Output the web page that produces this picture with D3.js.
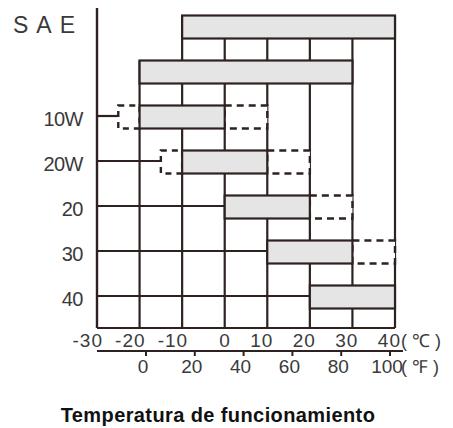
<!DOCTYPE html>
<html>
<head>
<meta charset="utf-8">
<script src="https://cdn.jsdelivr.net/npm/d3@7"></script>
<style>
  body { margin: 0; background: #fff; }
  text { font-family: "Liberation Sans", Arial, sans-serif; }
</style>
</head>
<body>
<div id="chart"></div>
<script>
// rows of the chart, top to bottom
let rows = ["all1", "all2", "10W", "20W", "20", "30", "40"];
let rowLabels = ["", "", "10W", "20W", "20", "30", "40"];
// solid range (deg C) for each grade
let solidFrom = [-10, -20, -20, -10, 0, 10, 20];
let solidTo = [40, 30, 0, 10, 20, 30, 40];
// dashed extensions (null = none)
let dashLeftFrom = [null, null, -25, -15, null, null, null];
let dashRightTo = [null, null, 10, 20, 30, 40, null];

let celsiusTicks = [-30, -20, -10, 0, 10, 20, 30, 40];
let fahrenheitTicks = [0, 20, 40, 60, 80, 100];

let width = 453, height = 428;
let ink = "#2d2220";
let labelInk = "#3a3a3a";

let svg = d3.select("#chart")
    .append("svg")
    .attr("width", width)
    .attr("height", height);

let x = d3.scaleLinear()
    .domain([-30, 40])
    .range([97, 395]);

let fx = d3.scaleLinear()
    .domain([0, 100])
    .range([146, 390]);

let y = d3.scalePoint()
    .domain(rows)
    .range([27, 297]);

let barH = 23;
let gridBottom = 328;

let bars = rows.map((r, i) => ({
    row: r,
    label: rowLabels[i],
    from: solidFrom[i],
    to: solidTo[i],
    dl: dashLeftFrom[i],
    dr: dashRightTo[i]
}));

// vertical grid lines start at the first solid bar that covers them
let grid = svg.append("g");
celsiusTicks.slice(1).forEach(t => {
    let cover = bars.filter(b => b.from <= t && b.to >= t);
    let top = d3.min(cover, b => y(b.row) - barH / 2);
    grid.append("line")
        .attr("x1", x(t)).attr("x2", x(t))
        .attr("y1", top).attr("y2", gridBottom)
        .attr("stroke", ink).attr("stroke-width", 2.2);
});

grid.append("line")
    .attr("x1", x(-30)).attr("x2", x(40))
    .attr("y1", gridBottom).attr("y2", gridBottom)
    .attr("stroke", ink).attr("stroke-width", 2.2);

// connector lines from the axis to each labelled bar
svg.append("g").selectAll("line")
    .data(bars.filter(b => b.label !== ""))
    .enter()
    .append("line")
    .attr("x1", x(-30))
    .attr("x2", d => x(d.dl !== null ? d.dl : d.from))
    .attr("y1", d => y(d.row) - 1)
    .attr("y2", d => y(d.row) - 1)
    .attr("stroke", ink)
    .attr("stroke-width", 2.2);

// dashed extensions
let dashed = svg.append("g");
bars.forEach(b => {
    if (b.dl !== null) {
        dashed.append("rect")
            .attr("x", x(b.dl)).attr("y", y(b.row) - barH / 2)
            .attr("width", x(b.from) - x(b.dl)).attr("height", barH)
            .attr("fill", "#fff").attr("stroke", ink)
            .attr("stroke-width", 2.4).attr("stroke-dasharray", "6,5");
    }
    if (b.dr !== null) {
        dashed.append("rect")
            .attr("x", x(b.to)).attr("y", y(b.row) - barH / 2)
            .attr("width", x(b.dr) - x(b.to)).attr("height", barH)
            .attr("fill", "#fff").attr("stroke", ink)
            .attr("stroke-width", 2.4).attr("stroke-dasharray", "7,5");
    }
});

// solid bars
svg.append("g").selectAll("rect")
    .data(bars)
    .enter()
    .append("rect")
    .attr("x", d => x(d.from))
    .attr("y", d => y(d.row) - barH / 2)
    .attr("width", d => x(d.to) - x(d.from))
    .attr("height", barH)
    .attr("fill", "#e5e5e5")
    .attr("stroke", ink)
    .attr("stroke-width", 2.2);

// y axis line
svg.append("line")
    .attr("x1", x(-30)).attr("x2", x(-30))
    .attr("y1", 8).attr("y2", gridBottom)
    .attr("stroke", ink).attr("stroke-width", 2.4);

svg.append("g").selectAll("text")
    .data(bars.filter(b => b.label !== ""))
    .enter()
    .append("text")
    .attr("x", 83)
    .attr("y", d => y(d.row) + 9)
    .attr("text-anchor", "end")
    .attr("font-size", 20)
    .attr("letter-spacing", -0.5)
    .attr("fill", labelInk)
    .text(d => d.label);

svg.append("text")
    .attr("x", 13).attr("y", 33)
    .attr("font-size", 23)
    .attr("letter-spacing", 8)
    .attr("fill", labelInk)
    .text("SAE");

// celsius labels
let cY = 347;
svg.append("g").selectAll("text")
    .data(celsiusTicks)
    .enter()
    .append("text")
    .attr("x", d => x(d) + 6)
    .attr("y", cY)
    .attr("text-anchor", "end")
    .attr("font-size", 19)
    .attr("letter-spacing", 1)
    .attr("fill", labelInk)
    .text(d => d);

svg.append("text")
    .attr("x", 401).attr("y", cY)
    .attr("font-size", 18)
    .attr("fill", labelInk)
    .text("( ℃ )");

// fahrenheit axis
let fAxis = svg.append("g");
fAxis.append("line")
    .attr("x1", x(-30)).attr("x2", 403)
    .attr("y1", 351).attr("y2", 351)
    .attr("stroke", ink).attr("stroke-width", 2);

fAxis.selectAll(".tick")
    .data(fahrenheitTicks)
    .enter()
    .append("line")
    .attr("x1", d => fx(d)).attr("x2", d => fx(d))
    .attr("y1", 351).attr("y2", 356)
    .attr("stroke", ink).attr("stroke-width", 2);

fAxis.selectAll("text")
    .data(fahrenheitTicks)
    .enter()
    .append("text")
    .attr("x", d => fx(d) - 3)
    .attr("y", 373)
    .attr("text-anchor", "middle")
    .attr("font-size", 19)
    .attr("fill", labelInk)
    .text(d => d);

svg.append("text")
    .attr("x", 401).attr("y", 373)
    .attr("font-size", 18)
    .attr("fill", labelInk)
    .text("( ℉ )");

svg.append("text")
    .attr("x", 218).attr("y", 422)
    .attr("text-anchor", "middle")
    .attr("font-size", 20)
    .attr("font-weight", "bold")
    .attr("letter-spacing", 0.4)
    .attr("fill", "#111")
    .text("Temperatura de funcionamiento");
</script>
</body>
</html>
